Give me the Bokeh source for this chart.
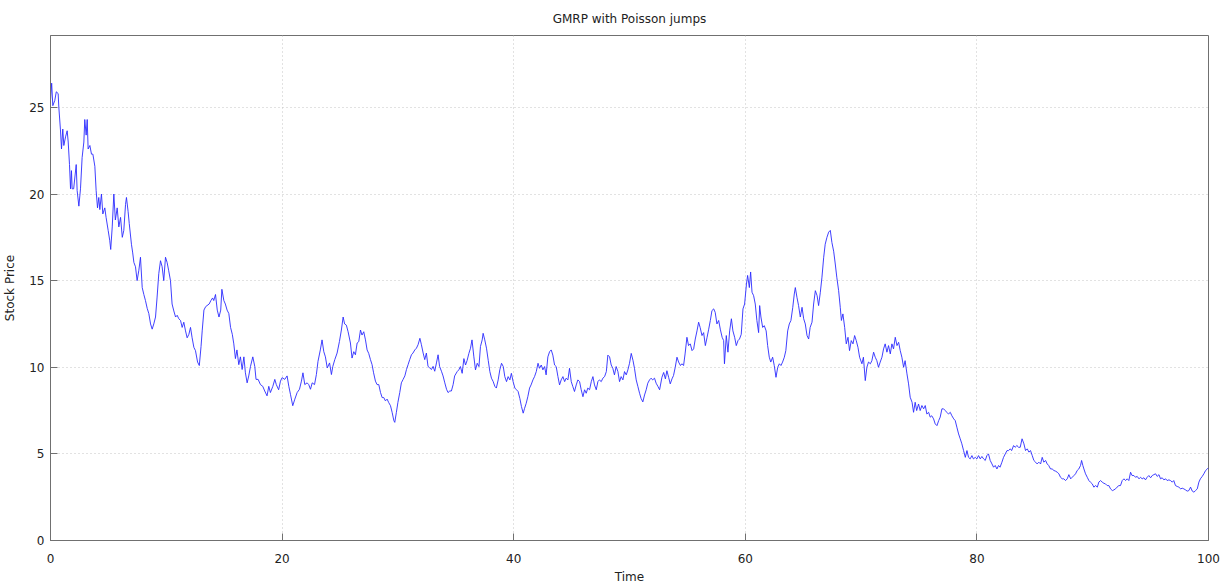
from bokeh.plotting import figure
from bokeh.models import Range1d, FixedTicker
from bokeh.embed import file_html
from bokeh.resources import INLINE

time = [0, 0.1, 0.2, 0.37, 0.5, 0.66, 0.72, 0.86, 0.95, 1.06, 1.15, 1.3, 1.44, 1.53, 1.64, 1.73, 1.81, 1.87, 2.0, 2.22,
        2.3, 2.45, 2.59, 2.73, 2.88, 2.96, 3.08, 3.17, 3.25, 3.4, 3.54, 3.66, 3.83, 3.94, 4.06, 4.17, 4.26, 4.4, 4.52, 4.69,
        4.8, 4.98, 5.12, 5.2, 5.33, 5.47, 5.6, 5.76, 5.9, 6.05, 6.2, 6.33, 6.48, 6.56, 6.7, 6.8, 6.99, 7.1, 7.2, 7.34,
        7.48, 7.63, 7.77, 7.92, 8.06, 8.2, 8.35, 8.49, 8.64, 8.78, 8.92, 9.07, 9.2, 9.35, 9.5, 9.64, 9.78, 9.93, 10.07, 10.2,
        10.36, 10.5, 10.65, 10.8, 10.94, 11.08, 11.23, 11.37, 11.51, 11.66, 11.8, 11.95, 12.09, 12.23, 12.38, 12.52, 12.7, 12.85, 13.0, 13.1,
        13.25, 13.4, 13.7, 13.85, 14.0, 14.1, 14.25, 14.4, 14.55, 14.7, 14.8, 14.97, 15.1, 15.25, 15.4, 15.55, 15.7, 15.83,
        15.97, 16.1, 16.26, 16.4, 16.55, 16.7, 16.83, 16.98, 17.12, 17.27, 17.47, 17.64, 17.75, 17.93, 18.13, 18.33, 18.5, 18.7, 18.85, 18.99,
        19.2, 19.37, 19.5, 19.7, 19.86, 20.0, 20.23, 20.43, 20.58, 20.72, 20.92, 21.1, 21.3, 21.5, 21.67, 21.8, 21.96, 22.16, 22.3, 22.45,
        22.6, 22.8, 22.96, 23.1, 23.3, 23.45, 23.6, 23.74, 23.9, 24.1, 24.26, 24.38, 24.55, 24.75, 24.95, 25.12, 25.27, 25.4, 25.55, 25.7,
        25.9, 26.04, 26.19, 26.33, 26.48, 26.62, 26.77, 26.9, 27.05, 27.2, 27.34, 27.48, 27.63, 27.77, 27.9, 28.06, 28.2, 28.35, 28.5, 28.64,
        28.78, 28.92, 29.07, 29.2, 29.36, 29.5, 29.65, 29.73, 29.87, 30.0, 30.16, 30.3, 30.45, 30.6, 30.74, 30.88, 31.02, 31.17, 31.3, 31.46,
        31.6, 31.74, 31.9, 32.03, 32.18, 32.32, 32.46, 32.6, 32.75, 32.9, 33.04, 33.18, 33.33, 33.47, 33.6, 33.76, 33.9, 34.05, 34.2, 34.33,
        34.48, 34.62, 34.77, 34.9,
        35.12, 35.26, 35.4, 35.55, 35.7, 35.84, 35.98, 36.13, 36.27, 36.4, 36.56, 36.7, 36.85, 37.0, 37.13, 37.28, 37.36, 37.5, 37.65, 37.8,
        37.94, 38.08, 38.23, 38.37, 38.5, 38.66, 38.8, 38.95, 39.1, 39.23, 39.38, 39.52, 39.67, 39.8, 39.95, 40.1, 40.24, 40.38, 40.53, 40.67,
        40.82, 40.94, 41.08, 41.22, 41.37, 41.5, 41.66, 41.8, 41.95, 42.1, 42.23, 42.38, 42.52, 42.67, 42.8, 42.95, 43.1, 43.24, 43.38, 43.53,
        43.67, 43.82, 43.96, 44.1, 44.25, 44.4, 44.53, 44.68, 44.82, 44.97, 45.1, 45.25, 45.4, 45.54, 45.69, 45.83, 45.98, 46.12, 46.26, 46.4,
        46.55, 46.7, 46.84, 46.98, 47.13, 47.27, 47.4, 47.56, 47.7, 47.85, 48.0, 48.13, 48.28, 48.42, 48.56, 48.7, 48.85, 49.0, 49.14, 49.28,
        49.43, 49.57, 49.72, 49.86, 50.0, 50.15, 50.3, 50.43, 50.58, 50.72, 50.87, 51.0, 51.15, 51.3, 51.44, 51.58, 51.73, 51.87, 52.0, 52.16,
        52.3, 52.45, 52.6,
        52.8, 52.95, 53.1, 53.23, 53.38, 53.52, 53.67, 53.8, 53.95, 54.1, 54.24, 54.4, 54.53, 54.67, 54.8, 54.96, 55.1, 55.25, 55.4, 55.54,
        55.68, 55.83, 55.97, 56.1, 56.26, 56.4, 56.55, 56.7, 56.84, 56.98, 57.12, 57.27, 57.4, 57.55, 57.7, 57.84, 58.0, 58.13, 58.2, 58.36,
        58.5, 58.65, 58.8, 58.93, 59.08, 59.22, 59.37, 59.5, 59.65, 59.8, 59.94, 60.1, 60.2, 60.35, 60.46, 60.58, 60.72, 60.86, 61.0, 61.15,
        61.24, 61.35, 61.5, 61.64, 61.8, 61.93, 62.07, 62.2, 62.36, 62.5, 62.65, 62.8, 62.94, 63.08, 63.22, 63.37, 63.5, 63.66, 63.8, 63.94,
        64.1, 64.23, 64.32, 64.46, 64.6, 64.75, 64.9, 65.04, 65.18, 65.33, 65.47, 65.6, 65.76, 65.9, 66.05, 66.2, 66.33, 66.48, 66.62, 66.77,
        66.9, 67.05, 67.2, 67.34, 67.48, 67.63, 67.77, 67.9, 68.06, 68.2, 68.3, 68.43, 68.58, 68.72, 68.87, 69.0, 69.15, 69.3, 69.44, 69.58,
        69.73, 69.87,
        70.07, 70.2, 70.36, 70.5, 70.64, 70.8, 70.93, 71.08, 71.22, 71.36, 71.5, 71.65, 71.8, 71.94, 72.08, 72.23, 72.37, 72.52, 72.66, 72.8,
        72.95, 73.1, 73.24, 73.38, 73.52, 73.67, 73.8, 73.96, 74.1, 74.24, 74.4, 74.53, 74.67, 74.8, 74.96, 75.1, 75.25, 75.4, 75.54, 75.68,
        75.83, 75.97, 76.1, 76.26, 76.4, 76.55, 76.7, 76.83, 76.98, 77.12, 77.27, 77.4, 77.55, 77.7, 77.84, 78.0, 78.13, 78.27, 78.42, 78.56,
        78.7, 78.85, 79.0, 79.14, 79.28, 79.42, 79.57, 79.7, 79.86, 80.0, 80.14, 80.29, 80.43, 80.58, 80.72, 80.86, 81.0, 81.15, 81.3, 81.44,
        81.58, 81.73, 81.87, 82.0, 82.16, 82.3, 82.45, 82.6, 82.73, 82.88, 83.0, 83.17, 83.3, 83.45, 83.6, 83.74,
        83.9, 84.06, 84.2, 84.35, 84.49, 84.63, 84.78, 84.92, 85.07, 85.2, 85.35, 85.5, 85.64, 85.78, 85.93, 86.07, 86.2, 86.36, 86.5, 86.65,
        86.8, 86.94, 87.08, 87.22, 87.37, 87.5, 87.66, 87.8, 87.94, 88.1, 88.23, 88.38, 88.52, 88.66, 88.8, 88.95, 89.04, 89.15, 89.24, 89.38,
        89.53, 89.67, 89.8, 89.96, 90.1, 90.25, 90.4, 90.53, 90.68, 90.82, 90.97, 91.1, 91.25, 91.4, 91.54, 91.7, 91.83, 91.97, 92.1, 92.26,
        92.4, 92.55, 92.7, 92.84, 92.98, 93.12, 93.27, 93.4, 93.56, 93.7, 93.84, 94.0, 94.13, 94.27, 94.42, 94.56, 94.7, 94.85, 95.0, 95.14,
        95.28, 95.43, 95.57, 95.72, 95.86, 96.0, 96.15, 96.3, 96.43, 96.58, 96.72, 96.87, 97.0, 97.15, 97.3, 97.44, 97.6, 97.73, 97.87, 98.02,
        98.16, 98.3, 98.45, 98.6, 98.74, 98.88, 99.03, 99.17, 99.3, 99.46, 99.6, 99.75, 99.9, 100.0]

price = [25.4, 26.4, 25.1, 25.4, 25.9, 25.8, 25.0, 23.7, 22.6, 23.75, 22.8, 23.3, 23.65, 23.0, 21.7, 20.3, 21.35, 20.3, 20.3, 21.7,
         20.2, 19.3, 20.3, 22.1, 23.0, 24.3, 23.4, 24.3, 22.6, 22.8, 22.3, 22.3, 21.6, 20.2, 19.2, 19.8, 19.1, 20.0, 18.85, 19.2,
         18.65, 17.9, 17.3, 16.8, 18.1, 20.0, 18.5, 19.2, 18.1, 18.65, 17.5, 17.9, 19.4, 19.8, 19.0, 18.3, 17.1, 16.6, 16.05, 15.8,
         15.0, 15.6, 16.35, 14.6, 14.2, 13.85, 13.4, 13.1, 12.5, 12.2, 12.5, 12.9, 14.0, 15.4, 16.15, 15.8, 15.0, 16.35, 16.05, 15.6,
         15.0, 13.65, 13.25, 12.9, 13.0, 12.8, 12.7, 12.3, 12.6, 12.1, 11.7, 11.9, 12.3, 11.7, 11.15, 10.96, 10.3, 10.1, 11.2, 12.1,
         13.3, 13.5, 13.65, 13.85, 14.0, 13.85, 14.2, 13.3, 12.9, 13.3, 14.5, 13.85, 13.65, 13.3, 13.1, 12.3, 11.9, 11.35,
         10.5, 11.0, 10.15, 10.6, 9.87, 10.6, 9.68, 9.1, 9.5, 10.05, 10.6, 10.05, 9.3, 9.3, 9.0, 8.9, 8.63, 8.35, 8.9, 8.54,
         8.9, 9.3, 9.0, 8.7, 9.2, 9.4, 9.3, 9.5, 8.9, 8.44, 7.78, 8.16, 8.54, 8.73, 9.2, 9.68, 9.0, 9.1, 9.0, 8.73,
         9.1, 9.0, 9.58, 10.34, 11.0, 11.58, 10.9, 10.6, 9.96, 10.25, 9.58, 10.05, 10.44, 10.82, 11.48, 12.15, 12.9, 12.5, 12.43, 12.05,
         11.4, 10.53, 10.9, 10.72, 11.4, 11.48, 12.15, 11.86, 12.05, 11.58, 11.0, 10.8, 10.44, 10.15, 9.68, 9.2, 9.0, 9.0, 8.54, 8.25,
         8.25, 8.06, 8.16, 7.97, 7.78, 7.4, 6.92, 6.82, 7.4, 7.97, 8.54, 9.1, 9.3, 9.5, 9.87, 10.15, 10.44, 10.72, 10.82, 11.0,
         11.1, 11.3, 11.67, 11.3, 10.82, 10.44, 10.82, 10.05, 9.96, 9.87, 10.05, 9.77, 10.25, 10.72, 10.05, 9.77, 9.5, 9.1, 8.73, 8.54,
         8.63, 8.63, 9.0, 9.5,
         9.75, 9.85, 10.04, 9.65, 10.5, 10.13, 10.4, 10.8, 11.1, 11.58, 10.6, 9.85, 10.23, 10.04, 11.2, 11.58, 11.96, 11.58, 11.1, 10.4,
         9.75, 9.37, 9.17, 8.9, 8.8, 9.27, 9.85, 10.23, 10.04, 9.46, 9.17, 9.46, 9.27, 9.65, 9.17, 8.8, 8.7, 8.6, 8.2, 7.73,
         7.35, 7.63, 7.92, 8.3, 8.8, 8.98, 9.27, 9.46, 9.75, 10.23, 9.94, 10.13, 9.85, 10.04, 9.56, 10.6, 10.9, 11.0, 10.7, 10.13,
         10.04, 9.46, 8.98, 9.27, 9.46, 9.17, 9.37, 9.27, 9.94, 9.17, 8.9, 8.6, 8.98, 9.27, 9.17, 8.7, 8.3, 8.7, 8.5, 8.8,
         8.7, 9.17, 9.46, 8.98, 8.7, 9.17, 9.27, 9.17, 9.37, 9.46, 9.75, 10.7, 10.6, 10.13, 9.94, 9.56, 10.04, 9.75, 9.17, 9.46,
         9.27, 9.75, 9.56, 9.85, 10.23, 10.8, 10.4, 9.94, 9.27, 8.9, 8.5, 8.2, 8.0, 8.4, 8.7, 9.08, 9.27, 9.37, 9.27, 9.37,
         9.08, 8.9, 8.7,
         9.42, 9.7, 9.33, 9.8, 9.42, 9.04, 9.33, 9.52, 10.0, 10.58, 10.3, 10.1, 10.2, 10.1, 10.77, 11.73, 11.25, 11.35, 10.96, 11.06,
         11.63, 12.1, 12.6, 12.3, 11.83, 12.0, 11.25, 11.73, 12.2, 12.7, 13.27, 13.37, 13.17, 12.5, 12.7, 12.2, 11.73, 11.54, 10.2, 11.83,
         10.87, 12.1, 12.8, 12.1, 11.73, 11.25, 11.54, 11.63, 11.9, 13.37, 13.65, 14.8, 15.3, 14.6, 15.5, 14.33, 14.13, 13.65, 12.7, 12.0,
         13.56, 12.9, 12.3, 12.4, 12.1, 11.25, 10.58, 10.3, 10.58, 10.1, 9.42, 10.0, 10.2, 10.1, 10.3, 10.58, 10.96, 12.1, 12.5, 12.7,
         13.46, 14.23, 14.6, 14.04, 13.56, 12.9, 13.46, 12.8, 12.5, 11.83, 11.63, 12.3, 12.6, 13.65, 14.42, 14.13, 13.56, 14.33, 15.2, 16.35,
         17.1, 17.5, 17.8, 17.9, 17.2, 16.7, 15.96, 15.2, 14.42, 13.46, 12.7, 13.08, 12.3, 11.35, 11.73, 10.96, 11.54, 11.35, 11.83, 11.54,
         11.15, 10.58,
         10.2, 10.58, 9.23, 10.0, 10.3, 10.2, 10.38, 10.87, 10.58, 10.38, 10.0, 10.3, 10.58, 11.06, 11.35, 10.87, 11.25, 10.77, 11.35, 11.06,
         11.73, 11.25, 11.44, 10.96, 10.58, 10.0, 10.38, 9.62, 9.04, 8.27, 7.98, 7.4, 7.98, 7.5, 7.88, 7.5, 7.79, 7.6, 7.79, 7.3,
         7.4, 7.12, 7.2, 7.02, 6.73, 6.63, 6.92, 7.12, 7.6, 7.6, 7.5, 7.4, 7.3, 7.4, 7.2, 7.02, 6.92, 6.54, 6.15, 5.87,
         5.58, 5.19, 4.8, 5.19, 4.8, 4.71, 4.9, 4.71, 4.8, 4.71, 4.9, 4.71, 4.85, 4.71, 4.62, 4.9, 5.0, 4.62, 4.42, 4.23,
         4.33, 4.13, 4.33, 4.23, 4.52, 4.8, 5.0, 5.19, 5.19, 5.29, 5.19, 5.48, 5.38, 5.48, 5.38, 5.38,
         5.87, 5.58, 5.19, 5.29, 5.1, 5.19, 4.9, 4.62, 4.52, 4.42, 4.52, 4.42, 4.8, 4.52, 4.62, 4.42, 4.33, 4.13, 4.13, 4.04,
         4.0, 3.94, 3.85, 3.65, 3.56, 3.56, 3.46, 3.56, 3.8, 3.56, 3.65, 3.75, 3.85, 4.04, 4.13, 4.33, 4.62, 4.33, 4.13, 3.85,
         3.65, 3.46, 3.37, 3.27, 3.08, 3.17, 3.08, 3.37, 3.46, 3.37, 3.3, 3.27, 3.17, 3.17, 2.98, 2.88, 2.92, 2.98, 3.08, 3.17,
         3.17, 3.46, 3.56, 3.46, 3.56, 3.46, 3.94, 3.75, 3.75, 3.65, 3.7, 3.56, 3.65, 3.56, 3.62, 3.5, 3.65, 3.75, 3.62, 3.75,
         3.8, 3.85, 3.7, 3.8, 3.56, 3.62, 3.5, 3.56, 3.46, 3.5, 3.46, 3.37, 3.46, 3.17, 3.12, 3.08, 2.98, 3.02, 2.98, 2.92,
         2.85, 2.88, 3.08, 2.85, 2.79, 2.88, 2.98, 3.37, 3.56, 3.7, 3.85, 4.04, 4.13, 4.2]

x_ticks = [0, 20, 40, 60, 80, 100]
y_ticks = [0, 5, 10, 15, 20, 25]

FONT = "DejaVu Sans"
AX = "#707070"

p = figure(width=1220, height=586, output_backend="svg", toolbar_location=None,
           x_range=Range1d(0, 100), y_range=Range1d(0, 29.15),
           title="GMRP with Poisson jumps",
           min_border_left=50, min_border_right=12, min_border_top=35, min_border_bottom=46)

p.title.align = "center"
p.title.text_font = FONT
p.title.text_font_size = "12px"
p.title.text_font_style = "normal"
p.title.text_color = "#222222"
p.title.standoff = 19

p.line(time, price, line_color="#2a2aff", line_width=0.9)

p.outline_line_color = AX
p.outline_line_width = 1

xax = p.below[0]
yax = p.left[0]

for ax in (xax, yax):
    ax.major_tick_in = 7
    ax.major_tick_out = 0
    ax.minor_tick_in = 0
    ax.minor_tick_out = 0
    ax.axis_line_color = AX
    ax.major_tick_line_color = AX
    ax.major_label_text_font = FONT
    ax.major_label_text_font_size = "12px"
    ax.major_label_text_color = "#222222"
    ax.axis_label_text_font = FONT
    ax.axis_label_text_font_size = "12px"
    ax.axis_label_text_font_style = "normal"
    ax.axis_label_text_color = "#222222"

xax.ticker = FixedTicker(ticks=x_ticks)
yax.ticker = FixedTicker(ticks=y_ticks)
xax.axis_label = "Time"
yax.axis_label = "Stock Price"
xax.major_label_standoff = 13
xax.axis_label_standoff = 4
yax.major_label_standoff = 6
yax.axis_label_standoff = 9

p.xgrid.ticker = FixedTicker(ticks=x_ticks)
p.ygrid.ticker = FixedTicker(ticks=y_ticks)
p.grid.grid_line_color = "#c4c4c4"
p.grid.grid_line_dash = "1 3"
p.grid.grid_line_width = 1

open("out.html", "w").write(file_html(p, INLINE))
